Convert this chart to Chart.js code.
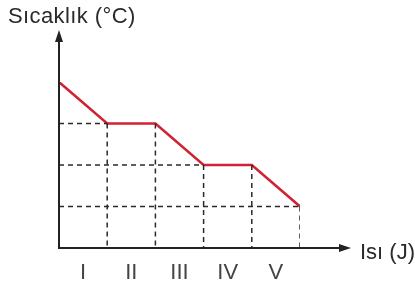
<!DOCTYPE html>
<html><head><meta charset="utf-8">
<script src="https://cdn.jsdelivr.net/npm/chart.js@4/dist/chart.umd.min.js"></script>
<style>html,body{margin:0;padding:0;background:#fff}#wrap{width:415px;height:289px}</style>
</head><body><div id="wrap"><canvas id="c" width="415" height="289"></canvas></div>
<script>
const heatValues = [0, 1, 2, 3, 4, 5];
const temperatures = [4, 3, 3, 2, 2, 1];
const regionLabels = ['I', 'II', 'III', 'IV', 'V'];
const yTitle = 'Sıcaklık (°C)';
const xTitle = 'Isı (J)';

const curve = heatValues.map((x, i) => ({x, y: temperatures[i]}));
const guideSets = [];
// horizontal guides from y-axis to the start of each plateau / end
[[1,3],[3,2],[5,1]].forEach(([xi, t]) => guideSets.push([{x: 0, y: t}, {x: heatValues[xi], y: t}]));
// vertical guides from each vertex down to the x-axis
heatValues.slice(1).forEach((x, i) => guideSets.push([{x, y: temperatures[i+1]}, {x, y: 0}]));

const datasets = guideSets.map(d => ({
  data: d, borderColor: '#2a2a2a', borderWidth: 1.5, borderDash: [5, 4],
  pointRadius: 0, fill: false, tension: 0
}));
datasets.push({data: curve, borderColor: '#cf2232', borderWidth: 2.5, pointRadius: 0, fill: false, tension: 0});

const axesPlugin = {
  id: 'axes',
  afterDatasetsDraw(chart) {
    const {ctx, scales: {x, y}} = chart;
    const x0 = x.getPixelForValue(0), y0 = y.getPixelForValue(0);
    ctx.save();
    ctx.strokeStyle = '#222'; ctx.fillStyle = '#222'; ctx.lineWidth = 2;
    ctx.beginPath(); ctx.moveTo(x0, y0); ctx.lineTo(x0, 40); ctx.stroke();
    ctx.beginPath(); ctx.moveTo(x0-1, y0); ctx.lineTo(340, y0); ctx.stroke();
    ctx.beginPath(); ctx.moveTo(x0, 30); ctx.lineTo(x0-4, 42); ctx.lineTo(x0+4, 42); ctx.closePath(); ctx.fill();
    ctx.beginPath(); ctx.moveTo(351, y0); ctx.lineTo(339, y0-4); ctx.lineTo(339, y0+4); ctx.closePath(); ctx.fill();
    ctx.fillStyle = '#2a2a2a';
    ctx.font = '22px "Liberation Sans", Arial, sans-serif';
    ctx.textBaseline = 'alphabetic'; ctx.textAlign = 'left';
    ctx.letterSpacing = '0.4px';
    ctx.fillText(yTitle, 8, 23);
    ctx.letterSpacing = '0px';
    ctx.fillText(xTitle, 360, y0 + 11);
    ctx.textAlign = 'center';
    ctx.fillStyle = '#444';
    regionLabels.forEach((l, i) => {
      ctx.fillText(l, x.getPixelForValue((heatValues[i] + heatValues[i+1]) / 2), 279);
    });
    ctx.restore();
  }
};

new Chart(document.getElementById('c'), {
  type: 'line',
  data: {datasets},
  options: {
    responsive: false, animation: false,
    layout: {padding: {left: 59, right: 115, top: 82, bottom: 41}},
    plugins: {legend: {display: false}, tooltip: {enabled: false}},
    scales: {
      x: {type: 'linear', min: 0, max: 5, display: false},
      y: {type: 'linear', min: 0, max: 4, display: false}
    }
  },
  plugins: [axesPlugin]
});
</script></body></html>
